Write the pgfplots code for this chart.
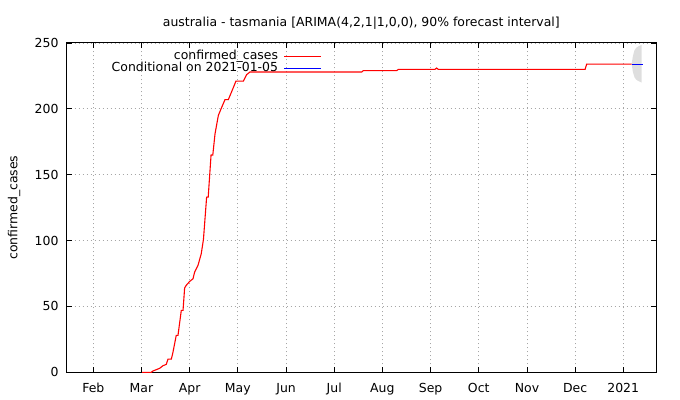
\documentclass[border=0pt]{standalone}
\usepackage{fontspec}
\setmainfont{DejaVu Sans}
\usepackage{pgfplots}
\pgfplotsset{compat=1.18}

\begin{document}
\begin{tikzpicture}
  \begin{axis}[
      scale only axis,
      width=589.3bp, height=329.3bp,
      xmin=13.1, xmax=385.4,
      ymin=0, ymax=250,
      axis line style={line width=1bp},
      every tick/.style={black, line width=0.8bp},
      major tick length=5bp,
      tick align=inside,
      xtick={29.9,60.3,90.8,121.2,151.7,182.1,212.5,243.0,273.4,303.9,334.3,364.7},
      xticklabels={Feb,Mar,Apr,May,Jun,Jul,Aug,Sep,Oct,Nov,Dec,2021},
      ytick={0,50,...,250},
      grid=major,
      major grid style={black!35, line width=0.8bp, dash pattern=on 1bp off 3bp},
      /pgf/number format/assume math mode=true,
      font=\fontsize{12.5}{14}\selectfont,
      tick label style={font=\fontsize{12.5}{14}\selectfont},
      xticklabel style={anchor=base, yshift=-20bp, inner sep=0pt},
      yticklabel style={anchor=east, xshift=-8bp, inner sep=0pt},
      ylabel={confirmed\_cases},
      ylabel style={at={(axis description cs:-0.0894,0.5)}, anchor=center, inner sep=0pt},
      title={australia - tasmania [ARIMA(4,2,1|1,0,0), 90\% forecast interval]},
      title style={at={(0.5,1)}, anchor=base, yshift=11bp, inner sep=0pt},
      legend plot pos=right,
      legend cell align=right,
      legend style={at={(0.433,0.975)}, anchor=north east, draw=none, fill=none,
        inner sep=0pt, row sep=1bp,
        nodes={inner xsep=5.5bp, inner ysep=0.5bp, text height=0.75em, text depth=0.25em},
        font=\fontsize{12.5}{14}\selectfont},
      legend image code/.code={\draw[#1] (0bp,0bp) -- (37bp,0bp);},
    ]
    % forecast interval
    \addplot[fill=black!13, draw=none, forget plot] coordinates {
      (370,234) (370.8,240) (371.8,244.5) (373,246.5) (374.5,247.6) (376.3,248.5)
      (376.3,220) (374.5,221) (373,222) (371.8,224) (370.8,228) (370,234)
    } -- cycle;
    \addplot[red, line width=1.1bp] coordinates {
      (60.7,0) (66.5,0) (67.6,1) (69.7,2) (71.8,3) (73.9,5) (76.0,6) (77.1,10)
      (79.2,10) (80.2,15) (82.3,28) (83.4,28) (85.5,47) (86.6,47) (87.6,64)
      (88.6,66) (90.8,69) (92.9,71) (93.9,76) (96.0,81) (98.1,90) (99.5,101)
      (101.5,133) (102.5,133) (104.3,165) (105.4,165) (106.8,181) (108.9,195)
      (110.6,200) (113.1,207) (115.2,207) (117.3,213) (120.0,221) (124.7,221)
      (126.8,226) (128.9,228) (199.5,228) (200.5,229) (221.6,229) (222.6,230)
      (245.8,230) (246.8,231) (247.8,230) (340.6,230) (341.6,234) (370,234)
    };
    \addlegendentry{confirmed\_cases}
    \addplot[blue, line width=1.1bp] coordinates {(370,234) (377.2,234)};
    \addlegendentry{Conditional on 2021-01-05}
  \end{axis}
  \path[use as bounding box] (-66.7bp,-27.7bp) rectangle (613.3bp,372.3bp);
\end{tikzpicture}
\end{document}
